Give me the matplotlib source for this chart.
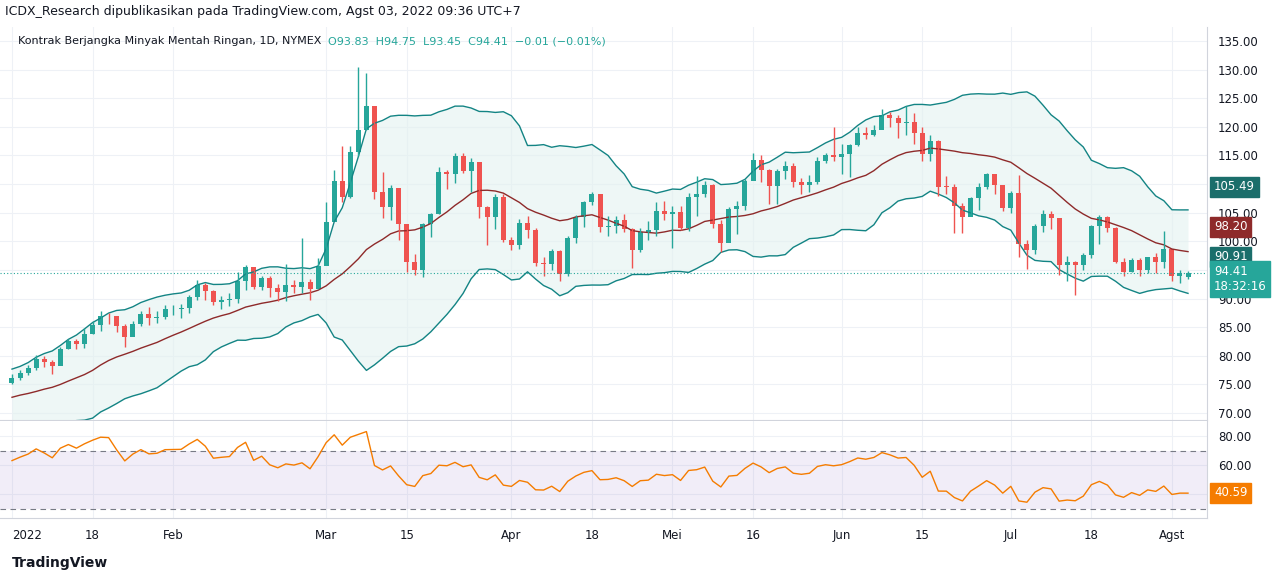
import numpy as np
import pandas as pd
import matplotlib.pyplot as plt

W, H = 1280, 581

# Dec 2021 closes (warm-up for Bollinger / RSI, not drawn)
dec_close = [66.50, 66.26, 69.49, 72.05, 72.36, 70.94, 71.67, 71.29, 70.73, 70.87,
             72.38, 70.86, 68.23, 71.12, 72.76, 73.79, 75.57, 75.98, 76.56, 76.99, 75.21]

close = [
    76.08, 76.99, 77.85, 79.46, 78.90, 78.23, 81.22, 82.64, 82.12, 83.82,
    85.43, 86.96, 86.90, 85.14, 83.31, 85.60, 87.35, 86.61, 86.82, 88.15,
    88.20, 88.26, 90.27, 92.31, 91.32, 89.36, 89.66, 89.88, 93.10, 95.46,
    92.07, 93.66, 91.76, 91.07, 92.35, 92.10, 92.81, 91.59, 95.72,
    103.41, 110.60, 107.67, 115.68, 119.40, 123.70, 108.70, 106.02, 109.33, 103.01,
    96.44, 95.04, 102.98, 104.70, 112.12, 111.76, 114.93, 112.34, 113.90, 105.96,
    104.24, 107.82, 100.28,
    99.27, 103.28, 102.00, 96.23, 96.03, 98.26, 94.29, 100.60, 104.25, 106.95,
    108.21, 102.56, 102.75, 103.79, 102.07, 98.54, 101.70, 102.02, 105.36, 104.69,
    105.17, 102.41, 107.81, 108.26, 109.77, 103.09, 99.76, 105.71, 106.13, 110.49,
    114.20, 112.40, 109.59, 112.21, 113.23, 110.29, 109.77, 110.33, 114.09, 115.07, 114.67,
    115.26, 116.87, 118.87, 118.50, 119.41, 122.11, 121.51, 120.67, 120.93, 118.93,
    115.31, 117.59, 109.56, 109.52, 106.19, 104.27, 107.62, 109.57, 111.76, 109.78, 105.76,
    108.43, 99.50, 98.53, 102.73, 104.79, 104.09, 95.84, 96.30, 95.78, 97.59,
    102.60, 104.22, 102.26, 96.35, 94.70, 96.70, 94.98, 97.26, 96.42, 98.62,
    93.89, 94.42, 94.41,
]
high = [
    76.8, 77.6, 78.4, 80.2, 79.9, 79.3, 81.5, 83.0, 83.0, 84.8,
    86.0, 87.9, 87.5, 86.7, 85.6, 86.0, 87.9, 88.5, 87.8, 88.8,
    88.9, 89.0, 90.7, 93.2, 92.7, 91.5, 90.4, 90.9, 94.7, 95.8,
    95.4, 94.0, 94.0, 92.5, 96.0, 93.2, 100.5, 93.4, 97.0,
    106.8, 112.5, 116.6, 116.6, 130.5, 129.4, 123.6, 112.1, 109.9, 109.3,
    103.0, 97.7, 103.2, 105.0, 112.9, 112.4, 115.4, 115.5, 114.6, 111.4,
    106.2, 108.2, 108.2,
    100.8, 103.9, 104.5, 102.3, 97.3, 98.7, 98.4, 101.0, 104.6, 107.0,
    108.6, 108.2, 104.5, 104.5, 104.7, 102.3, 102.3, 103.6, 106.8, 107.0,
    106.2, 106.1, 108.4, 111.4, 110.5, 110.1, 103.8, 106.0, 107.1, 110.8,
    115.5, 115.0, 112.7, 112.6, 114.0, 113.7, 111.0, 111.5, 114.8, 115.4, 119.9,
    117.0, 117.0, 120.0, 120.0, 120.3, 123.2, 122.6, 122.0, 123.7, 122.5,
    120.0, 118.6, 117.7, 111.4, 110.0, 106.7, 107.8, 110.2, 112.0, 111.0, 109.8,
    108.8, 111.5, 100.2, 103.0, 105.5, 105.3, 104.1, 97.5, 96.6, 97.9,
    102.8, 104.6, 104.4, 102.5, 97.0, 97.0, 97.0, 97.3, 98.0, 101.8,
    98.5, 94.9, 94.75,
]
low = [
    75.0, 75.8, 76.6, 77.5, 78.0, 76.8, 78.3, 81.1, 81.2, 81.4,
    83.8, 84.4, 85.6, 84.2, 81.5, 83.4, 85.2, 85.3, 85.7, 86.5,
    87.2, 86.6, 87.4, 89.7, 89.8, 88.9, 88.2, 88.7, 89.2, 91.5,
    91.6, 91.5, 90.3, 89.6, 89.6, 91.0, 91.0, 89.8, 91.7,
    95.8, 104.0, 106.9, 107.6, 114.9, 119.5, 107.4, 104.0, 103.8, 100.2,
    94.6, 94.1, 93.8, 100.8, 104.7, 109.2, 110.2, 111.9, 108.7, 104.0,
    99.4, 102.2, 99.8,
    98.4, 98.7, 100.5, 95.6, 94.0, 94.9, 93.0, 93.9, 99.7, 102.5,
    106.3, 101.6, 101.0, 101.5, 101.6, 95.3, 98.1, 100.2, 100.9, 103.7,
    98.9, 102.0, 101.8, 104.5, 107.7, 102.3, 98.2, 99.8, 101.2, 105.5,
    110.8, 110.4, 106.6, 106.6, 110.8, 109.5, 108.2, 108.6, 110.0, 113.6, 114.0,
    111.7, 111.3, 116.7, 117.9, 118.4, 119.6, 119.9, 118.0, 118.5, 117.0,
    114.0, 114.0, 108.0, 108.2, 101.5, 101.5, 104.5, 105.5, 109.1, 108.2, 105.3,
    104.9, 97.2, 95.1, 97.7, 101.6, 102.2, 94.2, 93.0, 90.6, 94.9,
    97.0, 99.6, 101.7, 96.2, 94.0, 94.6, 94.0, 94.5, 94.5, 95.4,
    93.0, 92.7, 93.45,
]
last_open = 93.83

tick_dates = ["2022-01-03", "2022-01-18", "2022-02-01", "2022-03-01", "2022-03-15",
              "2022-04-01", "2022-04-18", "2022-05-02", "2022-05-16", "2022-06-01",
              "2022-06-15", "2022-07-01", "2022-07-18", "2022-08-01"]
tick_labels = ["2022", "18", "Feb", "Mar", "15", "Apr", "18", "Mei", "16", "Jun",
               "15", "Jul", "18", "Agst"]

UP, DN = "#26a69a", "#ef5350"
BB_C, BASIS_C = "#138484", "#8e2a2a"
RSI_C = "#f57c00"
GRID = "#eef1f6"
TXT = "#131722"

# ---- derived series ----
allc = pd.Series(dec_close + close)
basis = allc.rolling(20).mean()
sd = allc.rolling(20).std(ddof=0)
upper, lower = basis + 2 * sd, basis - 2 * sd
d = allc.diff()
gain = d.clip(lower=0).ewm(alpha=1 / 14, adjust=False).mean()
loss = (-d.clip(upper=0)).ewm(alpha=1 / 14, adjust=False).mean()
rsi = 100 - 100 / (1 + gain / loss)
k = len(dec_close)
basis, upper, lower, rsi = [s.iloc[k:].to_numpy() for s in (basis, upper, lower, rsi)]

n = len(close)
close = np.array(close)
opn = np.concatenate([[dec_close[-1]], close[:-1]])
opn[-1] = last_open
x = np.arange(n)

dates = pd.bdate_range("2022-01-03", periods=n + 5)
dates = dates[~dates.isin(pd.to_datetime(["2022-01-17", "2022-02-21", "2022-04-15",
                                           "2022-05-30", "2022-06-20", "2022-07-04"]))][:n]
tick_pos = [int(np.searchsorted(dates, pd.Timestamp(t))) for t in tick_dates]

# ---- layout in pixels ----
fig = plt.figure(figsize=(W / 100, H / 100), dpi=100)
plt.rcParams["font.family"] = "DejaVu Sans"
px0, px_last, pright = 12, 1188, 1207
sp = (px_last - px0) / (n - 1)
xlim = (-px0 / sp, (n - 1) + (pright - px_last) / sp)


def pane(top, bottom):
    return fig.add_axes([0, 1 - bottom / H, pright / W, (bottom - top) / H])


ax = pane(27, 420)
ar = pane(421, 518)

# price pane: 135 at y=41, 70 at y=413
ppu = (413 - 41) / 65
ax.set_ylim(70 - (420 - 413) / ppu, 135 + (41 - 27) / ppu)
# rsi pane: 80 at y=436, 60 at y=465
rpu = (465 - 436) / 20
ar.set_ylim(60 - (518 - 465) / rpu, 80 + (436 - 421) / rpu)

for a in (ax, ar):
    a.set_xlim(*xlim)
    a.yaxis.tick_right()
    a.tick_params(axis="y", length=0, labelsize=8.5, labelcolor=TXT, pad=8)
    a.tick_params(axis="x", length=0)
    for s in ("top", "left"):
        a.spines[s].set_visible(False)
    a.spines["right"].set_color("#d1d4dc")
    a.spines["bottom"].set_color("#d1d4dc")
    a.set_xticks(tick_pos)
    a.grid(True, color=GRID, lw=0.8)
    a.set_axisbelow(True)

ax.set_xticklabels([])
ar.set_xticklabels(tick_labels, fontsize=8.5, color=TXT)
ar.get_xticklabels()[0].set_horizontalalignment("left")
ar.tick_params(axis="x", pad=8)
# tick labels that the value tags cover are left out
pt = np.arange(70, 136, 5)
ax.set_yticks(pt)
ax.set_yticklabels(["" if v in (95, 110) else f"{v:.2f}" for v in pt])
ar.set_yticks([40, 60, 80])
ar.set_yticklabels(["", "60.00", "80.00"])

# Bollinger
ax.fill_between(x, lower, upper, color="#e3f2f0", alpha=0.6, lw=0)
ax.plot(x, upper, color=BB_C, lw=1)
ax.plot(x, lower, color=BB_C, lw=1)
ax.plot(x, basis, color=BASIS_C, lw=1)

# candles
cw = 5 / sp
for i in range(n):
    c = UP if close[i] >= opn[i] else DN
    ax.vlines(i, low[i], high[i], color=c, lw=1)
    b0, b1 = sorted((opn[i], close[i]))
    ax.bar(i, max(b1 - b0, 0.08), bottom=b0, width=cw, color=c, lw=0)
ax.axhline(close[-1], color=UP, lw=0.8, ls=(0, (1, 2)))

# RSI
ar.axhspan(30, 70, color="#7e57c2", alpha=0.1, lw=0)
ar.axhline(70, color="#787b86", lw=0.8, ls=(0, (5, 4)))
ar.axhline(30, color="#787b86", lw=0.8, ls=(0, (5, 4)))
ar.plot(x, rsi, color=RSI_C, lw=1)


def tag(val, color, at, txt=None):
    # 'at' = vertical position in pixels from the figure top (labels pushed apart like TradingView)
    fig.text(1214 / W, 1 - at / H, txt or f"{val:.2f}", va="center", ha="left",
             fontsize=8.5, color="white", zorder=10,
             bbox=dict(boxstyle="square,pad=0.3", fc=color, ec=color))


tag(upper[-1], "#1b6e6b", 187)
tag(basis[-1], BASIS_C, 227)
tag(lower[-1], "#1b6e6b", 257)
tag(close[-1], UP, 279, f"{close[-1]:.2f}\n18:32:16")
tag(rsi[-1], RSI_C, 493)

# texts
fig.text(5 / W, 1 - 11 / H, "ICDX_Research dipublikasikan pada TradingView.com, Agst 03, 2022 09:36 UTC+7",
         fontsize=9, color=TXT, va="center")
fig.text(18 / W, 1 - 41 / H, "Kontrak Berjangka Minyak Mentah Ringan, 1D, NYMEX",
         fontsize=8, color=TXT, va="center")
fig.text(328 / W, 1 - 41 / H,
         f"O{opn[-1]:.2f}  H{high[-1]:.2f}  L{low[-1]:.2f}  C{close[-1]:.2f}  −0.01 (−0.01%)",
         fontsize=8, color=UP, va="center")
fig.text(12 / W, 1 - 563 / H, "TradingView", fontsize=10, color=TXT, va="center", weight="bold")

fig.savefig("out.png", dpi=100)
